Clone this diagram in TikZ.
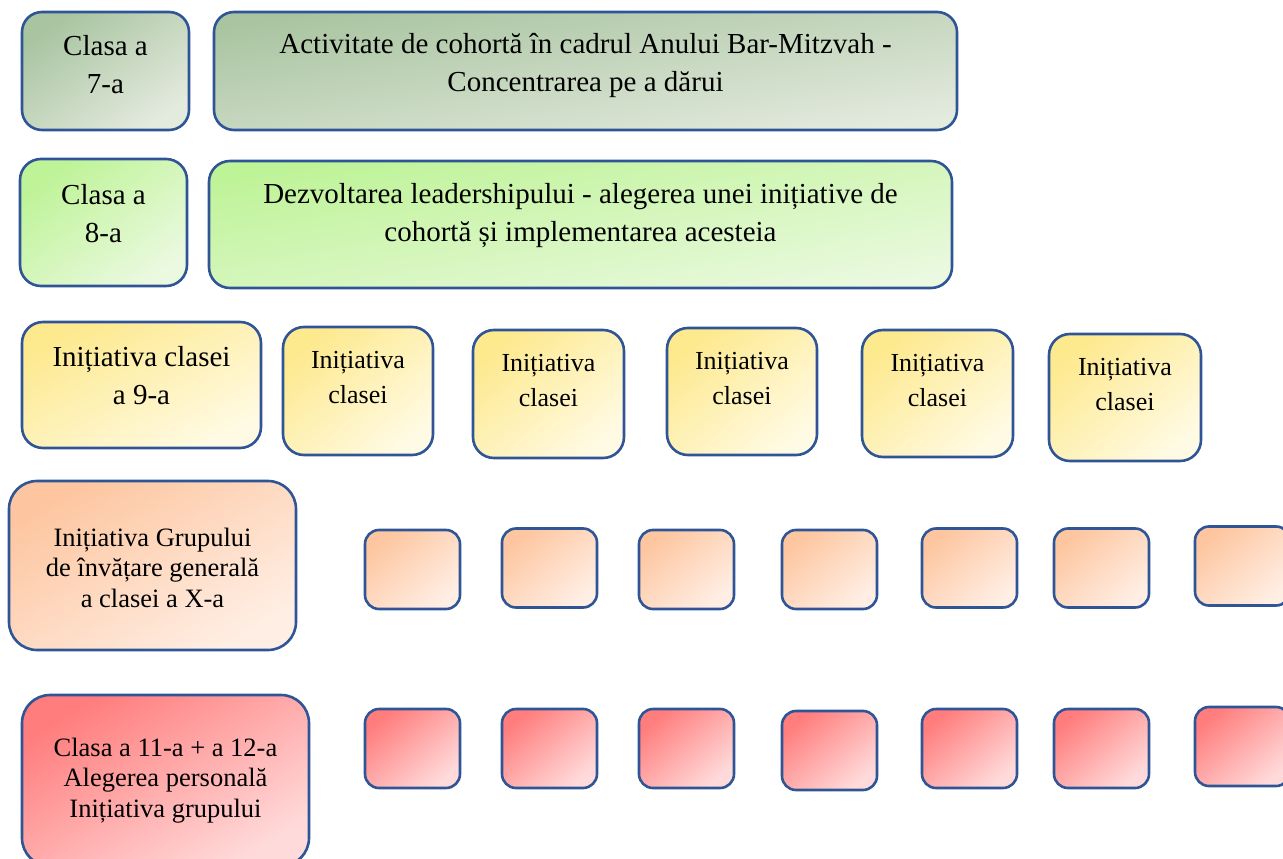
\documentclass[tikz,border=0pt]{standalone}
\usepackage{fontspec}
\setmainfont{Liberation Serif}
\definecolor{bordercol}{HTML}{2F5597}
\definecolor{gA}{HTML}{A9C4A0}\definecolor{gB}{HTML}{E3EADE}
\definecolor{lA}{HTML}{BEF397}\definecolor{lB}{HTML}{EAF9DF}
\definecolor{yA}{HTML}{FDE98E}\definecolor{yB}{HTML}{FFFAE3}
\definecolor{oA}{HTML}{FDC6A0}\definecolor{oB}{HTML}{FFEEE4}
\definecolor{rA}{HTML}{FF7D7D}\definecolor{rB}{HTML}{FFDADA}
\tikzset{
  box/.style={draw=bordercol, line width=2.6pt, inner sep=0pt},
  grey/.style={box, top color=gA, bottom color=gB, shading angle=#1},
  lime/.style={box, top color=lA, bottom color=lB, shading angle=#1},
  yell/.style={box, top color=yA, bottom color=yB, shading angle=#1},
  oran/.style={box, top color=oA, bottom color=oB, shading angle=#1},
  redd/.style={box, top color=rA, bottom color=rB, shading angle=#1},
  big/.style={rounded corners=20pt},
  tile/.style={rounded corners=14pt, minimum width=95pt, minimum height=79pt},
  txtL/.style={align=center, inner sep=0pt, font=\fontsize{29}{38}\selectfont},
  txtM/.style={align=center, inner sep=0pt, font=\fontsize{26}{35}\selectfont},
  txtS/.style={align=center, inner sep=0pt, font=\fontsize{26.5}{30.5}\selectfont},
}
\begin{document}
\begin{tikzpicture}[x=1pt,y=-1pt]
\clip (0,0) rectangle (1283,859);
\fill[white] (0,0) rectangle (1283,859);
% row 1
\node[grey=35, big, minimum width=167pt, minimum height=118pt] (a1) at (105.5,71) {};
\node[txtL] (a1t) at ([yshift=6pt]a1.center) {Clasa a\\7-a};
\node[grey=9, big, minimum width=743pt, minimum height=118pt] (a2) at (585.5,71) {};
\node[txtL] (a2t) at ([yshift=6pt]a2.center) {Activitate de cohortă în cadrul Anului Bar-Mitzvah -\\Concentrarea pe a dărui};
% row 2
\node[lime=37, rounded corners=21pt, minimum width=167pt, minimum height=127pt] (b1) at (103.5,222.5) {};
\node[txtL] (b1t) at ([yshift=9pt]b1.center) {Clasa a\\8-a};
\node[lime=10, rounded corners=21pt, minimum width=743pt, minimum height=127pt] (b2) at (580.5,224.5) {};
\node[txtL] (b2t) at ([yshift=9pt]b2.center) {Dezvoltarea leadershipului - alegerea unei inițiative de\\cohortă și implementarea acesteia};
% row 3
\node[yell=28, rounded corners=21pt, minimum width=239pt, minimum height=126pt] (c1) at (141.5,385) {};
\node[txtL] (c1t) at ([yshift=9pt]c1.center) {Inițiativa clasei\\a 9-a};
\node[yell=40, rounded corners=21pt, minimum width=150pt, minimum height=128pt] (c2) at (358,391) {};
\node[txtM] (c2t) at ([yshift=13pt]c2.center) {Inițiativa\\clasei};
\node[yell=40, rounded corners=21pt, minimum width=151pt, minimum height=128pt] (c3) at (548.5,394) {};
\node[txtM] (c3t) at ([yshift=13pt]c3.center) {Inițiativa\\clasei};
\node[yell=40, rounded corners=21pt, minimum width=150pt, minimum height=127pt] (c4) at (742,391.5) {};
\node[txtM] (c4t) at ([yshift=13pt]c4.center) {Inițiativa\\clasei};
\node[yell=40, rounded corners=21pt, minimum width=151pt, minimum height=127pt] (c5) at (937.5,393.5) {};
\node[txtM] (c5t) at ([yshift=13pt]c5.center) {Inițiativa\\clasei};
\node[yell=40, rounded corners=21pt, minimum width=152pt, minimum height=127pt] (c6) at (1125,397.5) {};
\node[txtM] (c6t) at ([yshift=13pt]c6.center) {Inițiativa\\clasei};
% row 4
\node[oran=31, rounded corners=28pt, minimum width=287pt, minimum height=169pt] (d1) at (152.5,565.5) {};
\node[txtS] (d1t) at ([yshift=-2pt]d1.center) {Inițiativa Grupului\\de învățare generală\\a clasei a X-a};
\node[oran=40, tile] (d2) at (412.5,569.5) {};
\node[oran=40, tile] (d3) at (549.5,568) {};
\node[oran=40, tile] (d4) at (686.5,569.5) {};
\node[oran=40, tile] (d5) at (829.5,569.5) {};
\node[oran=40, tile] (d6) at (969.5,568) {};
\node[oran=40, tile] (d7) at (1101.5,568) {};
\node[oran=40, tile] (d8) at (1242.5,566) {};
% row 5
\node[redd=31, rounded corners=28pt, minimum width=287pt, minimum height=171pt] (e1) at (165.5,780.5) {};
\node[txtS] (e1t) at (e1.center) {Clasa a 11-a + a 12-a\\Alegerea personală\\Inițiativa grupului};
\node[redd=40, tile] (e2) at (412.5,748.5) {};
\node[redd=40, tile] (e3) at (549.5,748.5) {};
\node[redd=40, tile] (e4) at (686.5,748.5) {};
\node[redd=40, tile] (e5) at (829.5,750.5) {};
\node[redd=40, tile] (e6) at (969.5,748.5) {};
\node[redd=40, tile] (e7) at (1101.5,748.5) {};
\node[redd=40, tile] (e8) at (1242.5,746.5) {};
\end{tikzpicture}
\end{document}
